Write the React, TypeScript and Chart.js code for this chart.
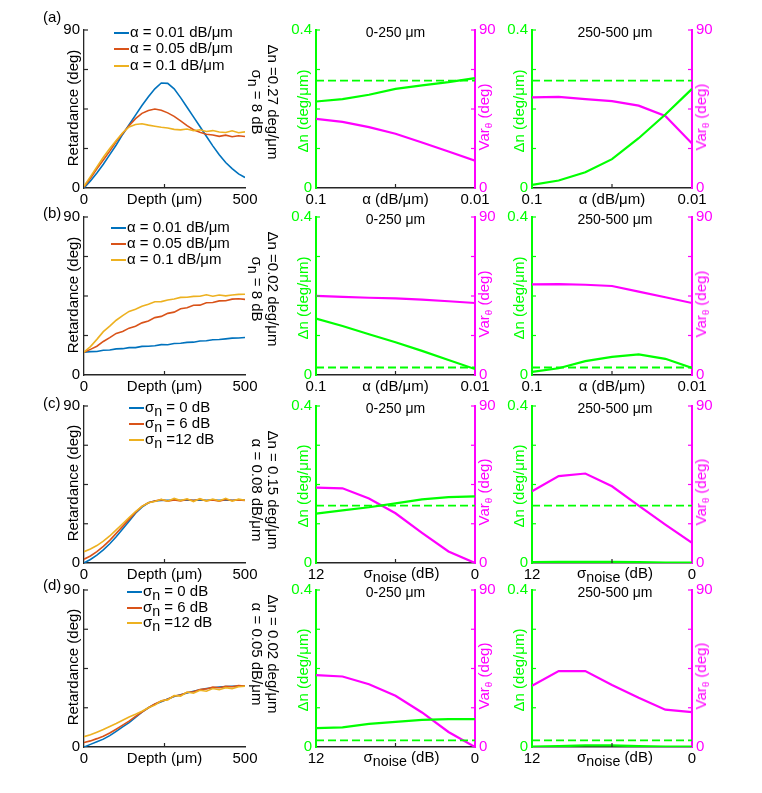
import React, { useEffect, useRef } from 'react';
import { Chart, registerables } from 'chart.js';

Chart.register(...registerables);

const FONT = "'Liberation Sans', Arial, Helvetica, sans-serif";
Chart.defaults.font.family = FONT;
Chart.defaults.color = '#000';

// ---------------- data ----------------
const depthUm = [0, 20, 40, 60, 80, 100, 120, 140, 160, 180, 200, 220, 240, 260, 280, 300, 320, 340, 360, 380, 400, 420, 440, 460, 480, 500];

// (a) retardance, sigma_n = 8 dB, dn = 0.27
const retA_alpha001 = [0, 4, 8.5, 13.5, 19, 24.5, 30.5, 36, 41.5, 47, 52, 56.5, 59.8, 59.6, 56.5, 51.5, 46, 40.5, 35, 29.5, 24, 19, 14.5, 11, 8, 6];
const retA_alpha005 = [0.5, 5.5, 11, 16, 21, 26.5, 31, 35.5, 39.5, 42.5, 44.2, 45, 44.3, 42.8, 40.8, 38.2, 35.5, 33.2, 31.8, 30.6, 30.2, 29.4, 30.1, 29.2, 29.8, 29.3];
const retA_alpha01 = [1, 6.5, 12, 17.5, 22.5, 27, 31.5, 34.8, 36.2, 36.6, 35.8, 35.2, 34.6, 34.2, 33.4, 33.1, 33.6, 32.6, 33.2, 32.2, 32.7, 31.9, 31.6, 32.6, 31.5, 32];
// (b) retardance, sigma_n = 8 dB, dn = 0.02
const retB_alpha001 = [13, 13.3, 13.4, 14.1, 14.2, 14.9, 15, 15.6, 15.6, 16.3, 16.4, 16.7, 17.3, 17.2, 17.9, 18.1, 18.6, 18.7, 19.4, 19.5, 20.1, 20.2, 20.6, 21, 21.1, 21.4];
const retB_alpha005 = [13, 14.6, 16.4, 19.1, 21.3, 23.7, 24.8, 26.7, 27.8, 29.7, 30.8, 32.7, 33.4, 35.1, 35.8, 37.7, 38.3, 39.7, 39.8, 41.2, 41.3, 42.2, 42.3, 43.2, 43.4, 43.1];
const retB_alpha01 = [13, 16.2, 20.3, 24.7, 27.8, 31.2, 33.8, 36.2, 37.4, 39.2, 40.3, 41.7, 41.8, 42.7, 43.3, 44.2, 44.3, 44.8, 44.9, 45.7, 44.9, 45.6, 45.1, 45.6, 45.9, 46];
// (c) retardance, alpha = 0.08, dn = 0.15
const retC_sigma0 = [0, 2, 4.5, 7.5, 11, 15, 19.5, 24, 28.5, 32, 34.5, 35.5, 35.8, 36, 36, 36, 36, 36, 36, 36, 36, 36, 36, 36, 36, 36];
const retC_sigma6 = [2.2, 4, 6.5, 9.5, 13, 17, 21, 25, 29, 32.5, 34.5, 35.5, 36.3, 35.5, 36.2, 35.6, 36.4, 35.8, 36.5, 35.7, 36.2, 35.5, 36.4, 35.8, 36.2, 35.9];
const retC_sigma12 = [6.5, 8, 10, 12.5, 15.5, 19, 22.5, 26, 29.5, 32.5, 34.5, 35.3, 36.5, 35.4, 37, 35.8, 36.8, 35.2, 36.9, 35.5, 36.7, 35.6, 37.1, 35.4, 36.6, 36];
// (d) retardance, alpha = 0.05, dn = 0.02
const retD_sigma0 = [0, 1.5, 3, 4.5, 6.5, 9, 11.5, 14, 17, 20, 22.5, 24.5, 26, 27.5, 29, 30, 31, 32, 32.8, 33.5, 34, 34.3, 34.6, 34.8, 35, 35];
const retD_sigma6 = [2.6, 3.5, 4.8, 6.2, 8, 10.2, 12.5, 14.8, 17.5, 20, 22.5, 24.6, 26.3, 27.4, 29.2, 29.8, 31.2, 31.7, 33, 33.3, 34.3, 34, 34.8, 34.5, 35.2, 35];
const retD_sigma12 = [5.9, 7, 8.5, 10, 11.8, 13.5, 15.3, 17.2, 18.8, 20.5, 22.5, 24, 26.5, 27, 29.5, 29.2, 31.5, 30.8, 32.5, 32, 33.5, 32.8, 34, 33.5, 34.5, 34.8];

// estimation sweeps
const alphaValues = [0.1, 0.085, 0.07, 0.055, 0.04, 0.025, 0.01];
const sigmaNoiseValues = [12, 10, 8, 6, 4, 2, 0];

const dnA_0_250 = [0.219, 0.225, 0.236, 0.251, 0.26, 0.268, 0.278];
const varA_0_250 = [39.4, 37.7, 34.7, 30.9, 25.9, 20.8, 15.6];
const dnA_250_500 = [0.008, 0.019, 0.04, 0.073, 0.126, 0.186, 0.251];
const varA_250_500 = [51.6, 51.9, 50.6, 49.5, 46.9, 41, 25.3];

const dnB_0_250 = [0.143, 0.124, 0.103, 0.083, 0.061, 0.038, 0.015];
const varB_0_250 = [45.1, 44.5, 44.0, 43.6, 42.9, 42.0, 41.0];
const dnB_250_500 = [0.008, 0.017, 0.035, 0.046, 0.052, 0.041, 0.018];
const varB_250_500 = [51.6, 51.8, 51.4, 50.7, 47.5, 44.3, 41.0];

const dnC_0_250 = [0.126, 0.134, 0.142, 0.152, 0.162, 0.168, 0.170];
const varC_0_250 = [43.2, 42.8, 37.0, 28.5, 17.3, 6.6, 0];
const dnC_250_500 = [0.002, 0.003, 0.003, 0.003, 0.002, 0.001, 0.001];
const varC_250_500 = [41.1, 49.8, 51.3, 44.0, 32.9, 22.0, 11.6];

const dnD_0_250 = [0.048, 0.05, 0.059, 0.064, 0.069, 0.071, 0.071];
const varD_0_250 = [41.2, 40.4, 36.0, 29.4, 19.8, 8.6, 0];
const dnD_250_500 = [0.001, 0.002, 0.004, 0.004, 0.002, 0.001, 0.001];
const varD_250_500 = [35.1, 43.5, 43.5, 35.6, 28.2, 21.4, 20.0];

const dnTrue = [0.272, 0.019, 0.146, 0.017];

// ticks and labels
const depthTicks = [0, 250, 500];
const depthTickLabels = ['0', 'Depth (μm)', '500'];
const retTicks = [0, 22.5, 45, 67.5, 90];
const retTickLabels = ['0', '', '', '', '90'];
const alphaTicks = [0.01, 0.055, 0.1];
const alphaTickLabels = ['0.01', 'α (dB/μm)', '0.1'];
const sigmaTicks = [0, 6, 12];
const sigmaTickLabels = ['0', '', '12'];
const dnTicks = [0, 0.1, 0.2, 0.3, 0.4];
const dnTickLabels = ['0', '', '', '', '0.4'];
const varTicks = [0, 22.5, 45, 67.5, 90];
const varTickLabels = ['0', '', '', '', '90'];

const alphaLegend = ['α = 0.01 dB/μm', 'α = 0.05 dB/μm', 'α = 0.1 dB/μm'];
const sigmaLegend = ['σ_{n} = 0 dB', 'σ_{n} = 6 dB', 'σ_{n} =12 dB'];

// ---------------- style / layout ----------------
const BLUE = '#0072BD';
const ORANGE = '#D95319';
const YELLOW = '#EDB120';
const GREEN = '#00FF00';
const MAGENTA = '#FF00FF';
const AXIS = '#262626';

const COLS = {
  ret: { l: 84, r: 245 },
  near: { l: 316, r: 475 },
  far: { l: 532, r: 692 },
};
const ROWS = [
  { t: 27, b: 188 },
  { t: 214, b: 375 },
  { t: 403, b: 563 },
  { t: 587, b: 747 },
];
const PAD = { l: 50, r: 50, t: 10, b: 30 };
const tickFont = { family: FONT, size: 15 };

const inwardTicks = {
  id: 'inwardTicks',
  afterDatasetsDraw(chart: any) {
    const { ctx, chartArea: ca } = chart;
    Object.keys(chart.scales).forEach((id) => {
      const s = chart.scales[id];
      ctx.save();
      ctx.strokeStyle = s.options.border.color;
      ctx.lineWidth = 1.2;
      s.ticks.forEach((t: any) => {
        const p = s.getPixelForValue(t.value);
        ctx.beginPath();
        if (s.position === 'left' || s.position === 'right') {
          if (Math.abs(p - ca.bottom) < 1) return;
          const x0 = s.position === 'left' ? ca.left : ca.right;
          const dir = s.position === 'left' ? 1 : -1;
          ctx.moveTo(x0, p);
          ctx.lineTo(x0 + dir * 4, p);
        } else {
          if (Math.abs(p - ca.left) < 1 || Math.abs(p - ca.right) < 1) return;
          ctx.moveTo(p, ca.bottom);
          ctx.lineTo(p, ca.bottom - 4);
        }
        ctx.stroke();
      });
      ctx.restore();
    });
  },
};

function hScale(min: number, max: number, ticks: number[], labels: string[], reverse: boolean) {
  return {
    type: 'linear',
    min,
    max,
    reverse,
    afterBuildTicks: (s: any) => {
      s.ticks = ticks.map((v) => ({ value: v }));
    },
    afterFit: (s: any) => {
      s.height = PAD.b;
    },
    ticks: {
      callback: (_v: any, i: number) => labels[i],
      autoSkip: false,
      maxRotation: 0,
      minRotation: 0,
      padding: 3,
      font: tickFont,
      color: '#000',
    },
    grid: { drawOnChartArea: false, drawTicks: false },
    border: { color: AXIS, width: 1.5 },
  };
}

function vScale(position: string, min: number, max: number, ticks: number[], labels: string[], color: string, textColor: string, width: number) {
  return {
    type: 'linear',
    position,
    min,
    max,
    afterBuildTicks: (s: any) => {
      s.ticks = ticks.map((v) => ({ value: v }));
    },
    afterFit: (s: any) => {
      s.width = position === 'left' ? PAD.l : PAD.r;
    },
    ticks: {
      callback: (_v: any, i: number) => labels[i],
      autoSkip: false,
      padding: 4,
      font: tickFont,
      color: textColor,
    },
    grid: { drawOnChartArea: false, drawTicks: false },
    border: { color, width },
  };
}

function retConfig(series: number[][]) {
  const colors = [BLUE, ORANGE, YELLOW];
  return {
    type: 'line',
    data: {
      datasets: series.map((vals, i) => ({
        data: depthUm.map((d, j) => ({ x: d, y: vals[j] })),
        borderColor: colors[i],
        borderWidth: 1.6,
        pointRadius: 0,
        tension: 0,
        order: 2 - i,
      })),
    },
    options: {
      animation: false,
      responsive: false,
      events: [],
      layout: { padding: { top: PAD.t, right: PAD.r, left: 0, bottom: 0 } },
      plugins: { legend: { display: false }, tooltip: { enabled: false } },
      scales: {
        x: hScale(0, 500, depthTicks, depthTickLabels, false),
        y: vScale('left', 0, 90, retTicks, retTickLabels, AXIS, '#000', 1.3),
      },
    },
    plugins: [inwardTicks],
  };
}

function dualConfig(kind: string, dn: number[], vr: number[], truth: number) {
  const xs = kind === 'alpha' ? alphaValues : sigmaNoiseValues;
  const x =
    kind === 'alpha'
      ? hScale(0.01, 0.1, alphaTicks, alphaTickLabels, true)
      : hScale(0, 12, sigmaTicks, sigmaTickLabels, true);
  return {
    type: 'line',
    data: {
      datasets: [
        {
          data: xs.map((v, i) => ({ x: v, y: dn[i] })),
          borderColor: GREEN,
          borderWidth: 2.2,
          pointRadius: 0,
          yAxisID: 'y',
        },
        {
          data: [
            { x: xs[0], y: truth },
            { x: xs[xs.length - 1], y: truth },
          ],
          borderColor: GREEN,
          borderWidth: 1.8,
          borderDash: [8, 4],
          pointRadius: 0,
          yAxisID: 'y',
        },
        {
          data: xs.map((v, i) => ({ x: v, y: vr[i] })),
          borderColor: MAGENTA,
          borderWidth: 2.2,
          pointRadius: 0,
          yAxisID: 'y1',
        },
      ],
    },
    options: {
      animation: false,
      responsive: false,
      events: [],
      layout: { padding: { top: PAD.t, right: 0, left: 0, bottom: 0 } },
      plugins: { legend: { display: false }, tooltip: { enabled: false } },
      scales: {
        x,
        y: vScale('left', 0, 0.4, dnTicks, dnTickLabels, GREEN, GREEN, 2),
        y1: vScale('right', 0, 90, varTicks, varTickLabels, MAGENTA, MAGENTA, 2),
      },
    },
    plugins: [inwardTicks],
  };
}

function ChartCanvas({ col, row, config }: any) {
  const ref = useRef<HTMLCanvasElement>(null);
  const left = col.l - PAD.l;
  const top = row.t - PAD.t;
  const width = col.r - col.l + PAD.l + PAD.r;
  const height = row.b - row.t + PAD.t + PAD.b;
  useEffect(() => {
    const chart = new Chart(ref.current as HTMLCanvasElement, config as any);
    return () => chart.destroy();
  }, []);
  return (
    <canvas
      ref={ref}
      width={width}
      height={height}
      style={{ position: 'absolute', left, top, width, height }}
    />
  );
}

function Rich({ text, subSize = 0.95, drop = 4 }: any) {
  const parts = text.split(/_\{([^}]*)\}/);
  return (
    <>
      {parts.map((p: string, i: number) =>
        i % 2 ? (
          <span key={i} style={{ fontSize: subSize + 'em', position: 'relative', top: drop }}>
            {p}
          </span>
        ) : (
          <span key={i}>{p}</span>
        )
      )}
    </>
  );
}

function Txt({ x, y, children, color = '#000', size = 15, rotate = 0, anchor = 'center' }: any) {
  const tx = anchor === 'center' ? '-50%' : anchor === 'left' ? '0' : '-100%';
  return (
    <div
      style={{
        position: 'absolute',
        left: x,
        top: y,
        transform: `translate(${tx},-50%) rotate(${rotate}deg)`,
        color,
        fontSize: size,
        fontFamily: FONT,
        whiteSpace: 'nowrap',
        lineHeight: '16px',
        textAlign: 'center',
      }}
    >
      {children}
    </div>
  );
}

const ROW_SPECS = [
  {
    panel: '(a)', panelY: 17, legend: alphaLegend, legendX: 114, legendY: [33, 49, 66],
    ret: [retA_alpha001, retA_alpha005, retA_alpha01],
    annot: ['Δn =0.27 deg/μm', 'σ_{n} = 8 dB'], annotY: 102,
    kind: 'alpha', near: [dnA_0_250, varA_0_250], far: [dnA_250_500, varA_250_500],
  },
  {
    panel: '(b)', panelY: 213, legend: alphaLegend, legendX: 111, legendY: [228, 244, 260],
    ret: [retB_alpha001, retB_alpha005, retB_alpha01],
    annot: ['Δn =0.02 deg/μm', 'σ_{n} = 8 dB'], annotY: 289,
    kind: 'alpha', near: [dnB_0_250, varB_0_250], far: [dnB_250_500, varB_250_500],
  },
  {
    panel: '(c)', panelY: 403, legend: sigmaLegend, legendX: 129, legendY: [408, 424, 440],
    ret: [retC_sigma0, retC_sigma6, retC_sigma12],
    annot: ['Δn = 0.15 deg/μm', 'α = 0.08 dB/μm'], annotY: 490,
    kind: 'sigma', near: [dnC_0_250, varC_0_250], far: [dnC_250_500, varC_250_500],
  },
  {
    panel: '(d)', panelY: 585, legend: sigmaLegend, legendX: 127, legendY: [592, 608, 623],
    ret: [retD_sigma0, retD_sigma6, retD_sigma12],
    annot: ['Δn = 0.02 deg/μm', 'α = 0.05 dB/μm'], annotY: 654,
    kind: 'sigma', near: [dnD_0_250, varD_0_250], far: [dnD_250_500, varD_250_500],
  },
];

function Row({ spec, idx }: any) {
  const row = ROWS[idx];
  const mid = (row.t + row.b) / 2;
  const legendColors = [BLUE, ORANGE, YELLOW];
  const nearC = (COLS.near.l + COLS.near.r) / 2;
  const farC = (COLS.far.l + COLS.far.r) / 2;
  return (
    <>
      <ChartCanvas col={COLS.ret} row={row} config={retConfig(spec.ret)} />
      <ChartCanvas col={COLS.near} row={row} config={dualConfig(spec.kind, spec.near[0], spec.near[1], dnTrue[idx])} />
      <ChartCanvas col={COLS.far} row={row} config={dualConfig(spec.kind, spec.far[0], spec.far[1], dnTrue[idx])} />

      <Txt x={43} y={spec.panelY} anchor="left">{spec.panel}</Txt>
      <Txt x={73} y={mid} rotate={-90}>Retardance (deg)</Txt>

      {spec.legend.map((lab: string, i: number) => (
        <div
          key={i}
          style={{
            position: 'absolute',
            left: spec.legendX,
            top: spec.legendY[i] - 8,
            height: 16,
            display: 'flex',
            alignItems: 'center',
            fontFamily: FONT,
            fontSize: 15,
            lineHeight: '16px',
            whiteSpace: 'nowrap',
          }}
        >
          <span style={{ display: 'block', width: 15, height: 0, borderTop: `2px solid ${legendColors[i]}`, marginRight: 1 }} />
          <span style={{ position: 'relative', top: -1 }}>
            <Rich text={lab} />
          </span>
        </div>
      ))}

      <Txt x={265} y={spec.annotY} rotate={90}>
        <div>{spec.annot[0]}</div>
        <div>
          <Rich text={spec.annot[1]} />
        </div>
      </Txt>

      <Txt x={nearC} y={row.t + 5} size={14}>0-250 μm</Txt>
      <Txt x={farC + 3} y={row.t + 5} size={14}>250-500 μm</Txt>

      <Txt x={COLS.near.l - 13} y={mid + 3} rotate={-90} color={GREEN}>Δn (deg/μm)</Txt>
      <Txt x={COLS.far.l - 13} y={mid + 3} rotate={-90} color={GREEN}>Δn (deg/μm)</Txt>
      <Txt x={COLS.near.r + 10} y={mid + 9} rotate={-90} color={MAGENTA}>
        <Rich text="Var_{θ} (deg)" subSize={0.65} drop={3} />
      </Txt>
      <Txt x={COLS.far.r + 10} y={mid + 9} rotate={-90} color={MAGENTA}>
        <Rich text="Var_{θ} (deg)" subSize={0.65} drop={3} />
      </Txt>

      {spec.kind === 'sigma' && (
        <>
          <Txt x={nearC + 6} y={row.b + 10}>
            <Rich text="σ_{noise} (dB)" />
          </Txt>
          <Txt x={farC + 3} y={row.b + 10}>
            <Rich text="σ_{noise} (dB)" />
          </Txt>
        </>
      )}
    </>
  );
}

export default function App() {
  return (
    <div
      style={{
        position: 'absolute',
        left: 0,
        top: 0,
        width: 762,
        height: 793,
        background: '#fff',
        overflow: 'hidden',
        fontFamily: FONT,
      }}
    >
      {ROW_SPECS.map((spec, i) => (
        <Row key={i} spec={spec} idx={i} />
      ))}
    </div>
  );
}
